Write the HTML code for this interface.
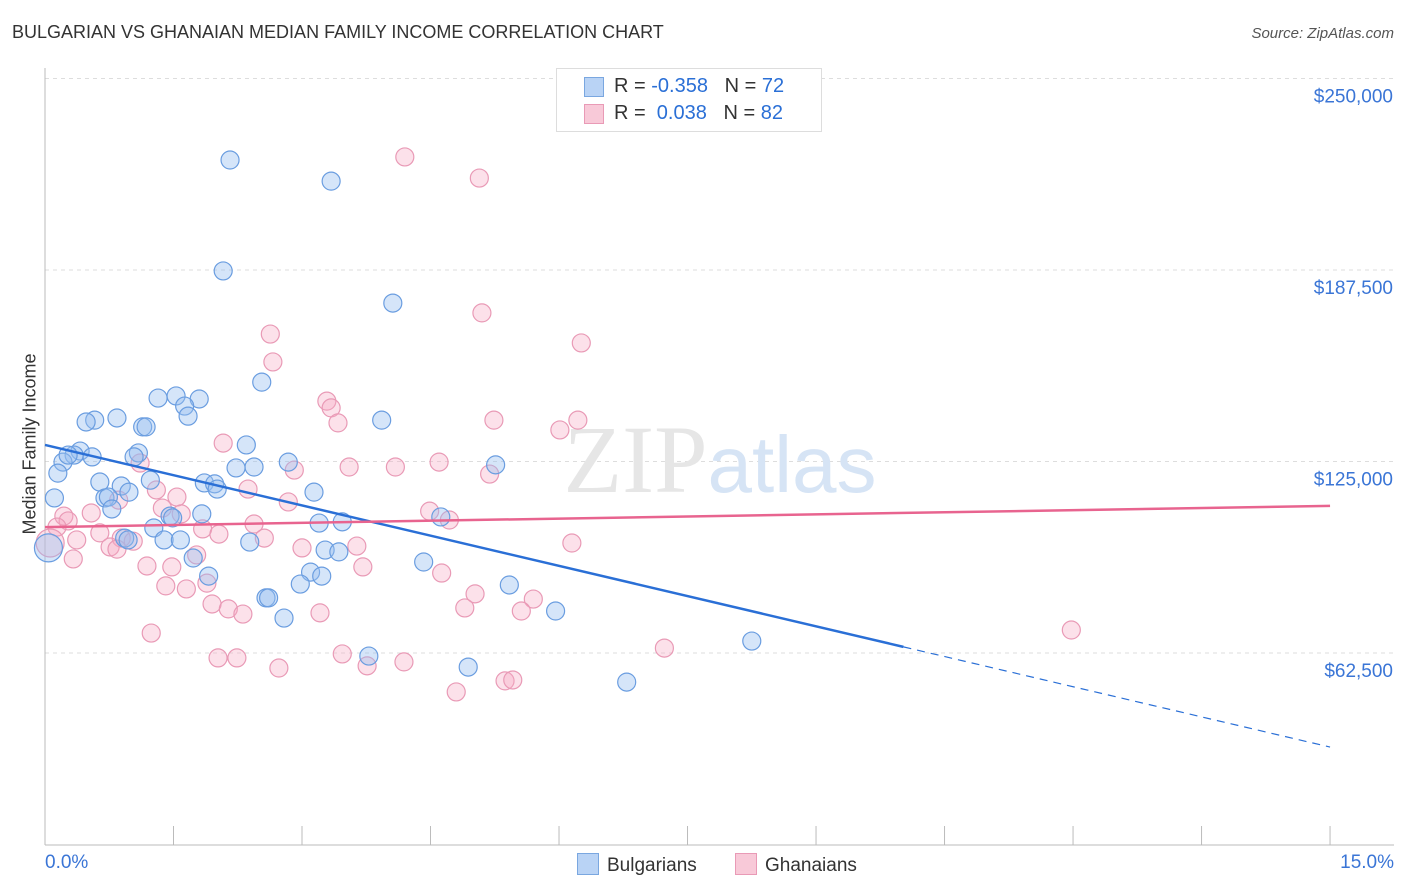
<!DOCTYPE html>
<html><head><meta charset="utf-8"><style>
body{margin:0;background:#fff;font-family:"Liberation Sans",sans-serif;}
#wrap{position:relative;width:1406px;height:892px;}
.t{position:absolute;white-space:nowrap;}
</style></head><body>
<div id="wrap">
<div class="t" style="left:12px;top:22px;font-size:18px;color:#333;">BULGARIAN VS GHANAIAN MEDIAN FAMILY INCOME CORRELATION CHART</div>
<div class="t" style="right:12px;top:25px;font-size:15px;color:#555;font-style:italic;">Source: ZipAtlas.com</div>
<svg id="svg" width="1406" height="892" style="position:absolute;left:0;top:0"></svg>
</div>
<script>
const blueX=[2.16,3.34,2.08,4.06,2.53,1.32,1.53,1.80,1.63,1.67,0.84,0.58,0.48,1.14,1.18,3.93,2.35,0.41,0.34,0.55,0.21,0.27,1.09,1.04,2.84,2.44,2.23,5.26,0.15,0.64,1.23,0.89,1.86,1.98,2.01,0.98,0.11,0.70,0.74,3.14,0.78,1.83,1.46,1.49,4.62,3.20,3.47,1.27,0.93,0.97,1.39,1.58,2.39,0.04,3.27,3.43,1.73,4.42,3.10,3.23,1.91,2.98,5.42,2.58,2.61,5.96,2.79,8.25,3.78,4.94,6.79];
const blueY=[223.4,216.5,187.2,176.7,150.9,145.7,146.4,145.4,143.1,139.8,139.2,138.5,137.9,136.3,136.3,138.5,130.4,128.4,127.1,126.5,124.8,127.1,127.8,126.5,124.8,123.2,122.9,123.9,121.2,118.3,118.9,117.0,118.0,117.7,116.0,115.0,113.1,113.1,113.4,115.0,109.5,107.9,107.2,106.6,106.9,104.9,105.3,103.3,100.0,99.4,99.4,99.4,98.7,96.8,96.1,95.5,93.5,92.2,88.9,87.6,87.6,85.0,84.7,80.5,80.5,76.2,73.9,66.4,61.5,57.9,53.0];
const pinkX=[4.20,5.07,5.10,6.26,2.63,2.66,3.29,3.34,3.42,5.24,6.22,6.01,2.08,1.11,3.55,4.09,4.60,2.91,5.19,2.37,1.30,1.54,2.84,0.86,1.37,1.59,0.54,0.22,0.27,4.49,4.72,2.44,0.14,1.84,0.64,2.03,2.56,0.37,0.89,1.03,0.76,0.84,3.00,3.64,6.15,0.06,0.33,1.77,1.19,1.48,3.71,4.63,1.65,1.89,1.41,5.02,5.70,1.95,2.14,2.31,3.21,4.90,5.56,1.24,11.98,7.23,3.47,2.02,2.24,4.19,3.76,2.73,5.37,5.46,4.80];
const pinkY=[224.4,217.5,173.5,163.7,166.6,157.5,144.7,142.5,137.6,138.5,138.5,135.3,131.0,124.5,123.2,123.2,124.8,122.2,120.9,116.0,115.7,113.4,111.8,112.4,109.8,107.9,108.2,107.2,105.6,108.8,105.9,104.6,103.6,103.0,101.7,101.3,100.0,99.4,100.0,99.0,97.1,96.4,96.8,97.4,98.4,98.4,93.2,94.5,90.9,90.6,90.6,88.6,83.4,85.3,84.4,81.8,80.1,78.5,76.9,75.2,75.6,77.2,76.2,69.0,70.0,64.1,62.2,60.9,60.9,59.6,58.3,57.6,53.4,53.7,49.8];
const blueTrendX=[0,10.02,15];
const blueTrendY=[130.4,64.5,31.8];
const pinkTrendX=[0,15];
const pinkTrendY=[103.6,110.5];
const yTicks=[62.5,125,187.5,250];
const yTickLabels=["$62,500","$125,000","$187,500","$250,000"];
const xTicks=[0,1.5,3,4.5,6,7.5,9,10.5,12,13.5,15];

const sx=v=>45+v*85.67;
const sy=v=>653-(v-62.5)*3.064;
const svg=document.getElementById('svg');
const NS='http://www.w3.org/2000/svg';
function mk(tag,attrs){const e=document.createElementNS(NS,tag);for(const k in attrs)e.setAttribute(k,attrs[k]);svg.appendChild(e);return e;}
yTicks.forEach((t,i)=>{
 const g=mk('line',{x1:45,x2:1394,y1:sy(t),y2:sy(t),stroke:'#ddd','stroke-dasharray':'4,4'});
 
 
 const tx=mk('text',{x:1393,y:sy(t)+24,'text-anchor':'end','font-size':19,fill:'#3a75d6','font-family':'Liberation Sans'});
 tx.textContent=yTickLabels[i];
 
 
});
const ax=mk('line',{x1:45,x2:45,y1:68,y2:845,stroke:'#bbb'});


const bx=mk('line',{x1:45,x2:1394,y1:845,y2:845,stroke:'#bbb'});


xTicks.forEach(t=>{const l=mk('line',{x1:sx(t),x2:sx(t),y1:826,y2:845,stroke:'#bbb'});
 
 });
const wm=mk('text',{x:720,y:492,'text-anchor':'middle','font-size':96,fill:'#e6e6e6','font-family':'Liberation Serif'});
wm.innerHTML='ZIP<tspan fill="#d6e4f5" font-family="Liberation Sans" font-size="80">atlas</tspan>';


function dots(X,Y,fill,stroke,name){X.forEach((x,i)=>{const r=(x<0.1)?14:9;
 const c=mk('circle',{cx:sx(x),cy:sy(Y[i]),r:r,fill:fill,stroke:stroke,'stroke-width':1.2});
 
 });}
dots(pinkX,pinkY,'rgba(245,170,195,0.35)','#e99ab6','ghanaian-point');
dots(blueX,blueY,'rgba(150,190,240,0.4)','#6a9de0','bulgarian-point');
const b1=mk('line',{x1:sx(blueTrendX[0]),y1:sy(blueTrendY[0]),x2:sx(blueTrendX[1]),y2:sy(blueTrendY[1]),stroke:'#2a6fd6','stroke-width':2.5});


const b2=mk('line',{x1:sx(blueTrendX[1]),y1:sy(blueTrendY[1]),x2:sx(blueTrendX[2]),y2:sy(blueTrendY[2]),stroke:'#2a6fd6','stroke-width':1.2,'stroke-dasharray':'8,6'});


const p1=mk('line',{x1:sx(pinkTrendX[0]),y1:sy(pinkTrendY[0]),x2:sx(pinkTrendX[1]),y2:sy(pinkTrendY[1]),stroke:'#e8648f','stroke-width':2.5});


</script>
<div class="t" style="left:-50px;top:444px;font-size:18px;color:#333;transform:rotate(-90deg);transform-origin:center;width:160px;text-align:center;">Median Family Income</div>
<div class="t" style="left:45px;top:852px;font-size:19px;color:#3a75d6;">0.0%</div>
<div class="t" style="right:12px;top:852px;font-size:19px;color:#3a75d6;">15.0%</div>
<div style="position:absolute;left:556px;top:68px;width:264px;height:62px;border:1px solid #ddd;background:#fff;font-size:20px;color:#333;">
 <div style="position:absolute;left:27px;top:8px;width:18px;height:18px;background:#b9d3f5;border:1px solid #7aa7e0;"></div>
 <div class="t" style="left:57px;top:6px;">R = <span style="color:#2a6fd6">-0.358</span>&nbsp;&nbsp;&nbsp;N = <span style="color:#2a6fd6">72</span></div>
 <div style="position:absolute;left:27px;top:35px;width:18px;height:18px;background:#f8c9d8;border:1px solid #e99ab6;"></div>
 <div class="t" style="left:57px;top:33px;">R = &nbsp;<span style="color:#2a6fd6">0.038</span>&nbsp;&nbsp;&nbsp;N = <span style="color:#2a6fd6">82</span></div>
</div>
<div style="position:absolute;left:577px;top:853px;font-size:19px;color:#333;">
 <span style="display:inline-block;width:20px;height:20px;background:#b9d3f5;border:1px solid #7aa7e0;vertical-align:-4px;margin-right:8px;"></span>Bulgarians</div>
<div style="position:absolute;left:735px;top:853px;font-size:19px;color:#333;">
 <span style="display:inline-block;width:20px;height:20px;background:#f8c9d8;border:1px solid #e99ab6;vertical-align:-4px;margin-right:8px;"></span>Ghanaians</div>
</body></html>
